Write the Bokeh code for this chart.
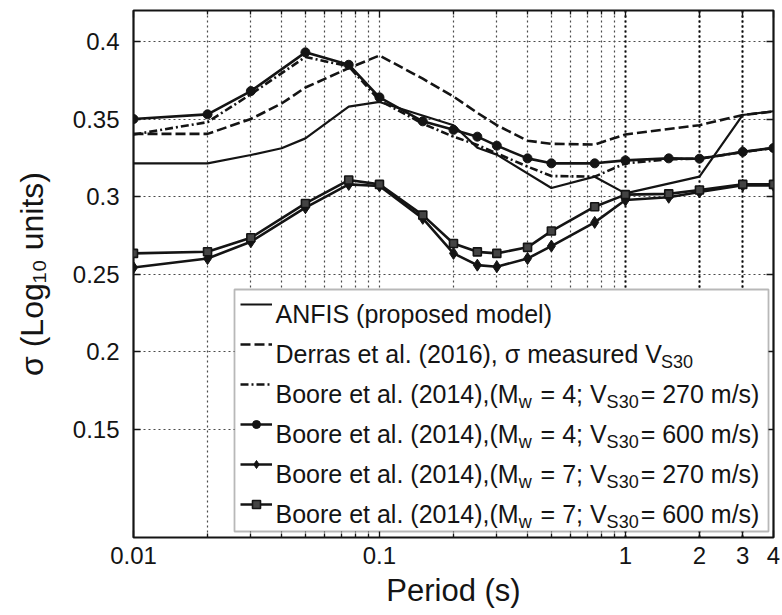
from bokeh.plotting import figure
from bokeh.models import (Range1d, FixedTicker, CustomJSTickFormatter, LogAxis, LinearAxis,
                          Grid, Legend, LegendItem, Label, BoxAnnotation)
from bokeh.embed import file_html
from bokeh.resources import INLINE

# ---------------- data ----------------
periods = [0.01, 0.02, 0.03, 0.05, 0.075, 0.1, 0.15, 0.2, 0.25, 0.3, 0.4, 0.5, 0.75, 1, 1.5, 2, 3, 4]

anfis_periods = [0.01, 0.02, 0.03, 0.04, 0.05, 0.075, 0.1, 0.2, 0.25, 0.3, 0.5, 0.75, 1, 2, 3, 4]
anfis_sigma = [0.3214, 0.3214, 0.3268, 0.3311, 0.3375, 0.358, 0.361, 0.346, 0.3315, 0.327,
               0.3055, 0.3128, 0.302, 0.3128, 0.3526, 0.355]

derras_periods = [0.01, 0.02, 0.03, 0.04, 0.05, 0.075, 0.1, 0.15, 0.2, 0.25, 0.3, 0.4, 0.5, 0.75, 1, 2, 3, 4]
derras_sigma = [0.3404, 0.3404, 0.350, 0.360, 0.3703, 0.3828, 0.391, 0.376, 0.3645, 0.354, 0.346,
                0.336, 0.334, 0.3335, 0.340, 0.346, 0.3526, 0.3548]

boore_m4_v270 = [0.340, 0.348, 0.366, 0.390, 0.384, 0.362, 0.347, 0.3386, 0.3333, 0.3278, 0.3193,
                 0.3132, 0.3128, 0.3214, 0.3240, 0.3244, 0.3287, 0.3313]
boore_m4_v600 = [0.350, 0.353, 0.368, 0.393, 0.385, 0.364, 0.3485, 0.343, 0.3386, 0.3328, 0.3246,
                 0.3214, 0.3214, 0.3233, 0.3246, 0.3244, 0.3288, 0.3313]
boore_m7_v270 = [0.2542, 0.260, 0.2708, 0.2928, 0.3078, 0.3068, 0.2859, 0.2633, 0.2557, 0.2547,
                 0.260, 0.268, 0.2833, 0.2977, 0.2995, 0.3029, 0.3072, 0.3072]
boore_m7_v600 = [0.2633, 0.2644, 0.2734, 0.2955, 0.3106, 0.3078, 0.288, 0.2697, 0.2643, 0.2633,
                 0.2672, 0.2777, 0.2934, 0.3012, 0.3017, 0.3042, 0.3078, 0.3078]

x_major_ticks = [0.01, 0.1, 1, 2, 3, 4]
x_minor_ticks = [0.02, 0.03, 0.04, 0.05, 0.06, 0.07, 0.08, 0.09,
                 0.2, 0.3, 0.4, 0.5, 0.6, 0.7, 0.8, 0.9, 2, 3]
x_dark_grid = [1, 2, 3]
y_ticks = [0.15, 0.2, 0.25, 0.3, 0.35, 0.4]

x_title = "Period (s)"
y_title = "σ (Log\u2081\u2080 units)"

NB = "\u00a0"
legend_rows = [
    [("ANFIS (proposed model)", False)],
    [("Derras et al. (2016), σ measured V", False), ("S30", True)],
    [("Boore et al. (2014),(M", False), ("w", True), (NB + "= 4; V", False), ("S30", True), ("= 270 m/s)", False)],
    [("Boore et al. (2014),(M", False), ("w", True), (NB + "= 4; V", False), ("S30", True), ("= 600 m/s)", False)],
    [("Boore et al. (2014),(M", False), ("w", True), (NB + "= 7; V", False), ("S30", True), ("= 270 m/s)", False)],
    [("Boore et al. (2014),(M", False), ("w", True), (NB + "= 7; V", False), ("S30", True), ("= 600 m/s)", False)],
]

# ---------------- layout ----------------
FONT = "Liberation Sans"
INK = "#141414"
GRID = "#4a4a4a"
W, H = 782, 615
L, R, T, B = 133, 773, 10, 537

# Arial / Liberation Sans advance widths (per 1000 em)
AW = {' ': 278, NB: 278, '(': 333, ')': 333, ',': 278, '.': 278, ';': 278, '=': 584, '/': 278,
      'A': 667, 'B': 667, 'D': 722, 'F': 611, 'I': 278, 'L': 556, 'M': 833, 'N': 722,
      'P': 667, 'S': 667, 'V': 667, 'a': 556, 'd': 556, 'e': 556, 'g': 556, 'i': 222,
      'l': 222, 'm': 833, 'n': 556, 'o': 556, 'p': 556, 'r': 333, 's': 500, 't': 278,
      'u': 556, 'w': 722, 'σ': 580}
for ch in "0123456789":
    AW[ch] = 556


def text_w(s, fs):
    return sum(AW.get(c, 556) for c in s) / 1000.0 * fs


p = figure(width=W, height=H, x_axis_type="log", output_backend="svg", toolbar_location=None,
           x_range=Range1d(0.01, 4), y_range=Range1d(0.08, 0.42),
           min_border_left=L, min_border_right=W - R, min_border_top=T, min_border_bottom=H - B)
p.background_fill_color = "white"
p.border_fill_color = "white"
p.outline_line_color = INK
p.outline_line_width = 2.2

xt = FixedTicker(ticks=x_major_ticks, minor_ticks=x_minor_ticks)
yt = FixedTicker(ticks=y_ticks, minor_ticks=[])
fmt = CustomJSTickFormatter(code="return tick.toString();")
blank = CustomJSTickFormatter(code="return '';")

for ax in (p.xaxis[0], p.yaxis[0]):
    ax.major_label_text_font = FONT
    ax.major_label_text_font_size = "24px"
    ax.major_label_text_color = INK
    ax.axis_line_color = None
    ax.major_tick_in = 7
    ax.major_tick_out = 0
    ax.minor_tick_in = 4
    ax.minor_tick_out = 0
    ax.major_tick_line_color = INK
    ax.minor_tick_line_color = INK
    ax.major_tick_line_width = 1.3
    ax.minor_tick_line_width = 1.3
    ax.formatter = fmt
    ax.axis_label_text_font = FONT
    ax.axis_label_text_font_style = "normal"
    ax.axis_label_text_color = INK
p.xaxis.ticker = xt
p.yaxis.ticker = yt
p.xaxis.major_label_standoff = 9
p.yaxis.major_label_standoff = 14
p.xaxis.axis_label = x_title
p.xaxis.axis_label_text_font_size = "31px"
p.xaxis.axis_label_standoff = 6
p.yaxis.axis_label = y_title
p.yaxis.axis_label_text_font_size = "32px"
p.yaxis.axis_label_standoff = 20

top_ax = LogAxis(ticker=xt, formatter=blank, major_label_standoff=0,
                 axis_line_color=None, major_tick_in=7, major_tick_out=0, minor_tick_in=4,
                 minor_tick_out=0, major_tick_line_color=INK, minor_tick_line_color=INK,
                 major_tick_line_width=1.3, minor_tick_line_width=1.3)
right_ax = LinearAxis(ticker=yt, formatter=blank, major_label_standoff=0,
                      axis_line_color=None, major_tick_in=7, major_tick_out=0,
                      major_tick_line_color=INK, major_tick_line_width=1.3)
p.add_layout(top_ax, "above")
p.add_layout(right_ax, "right")

p.xgrid.grid_line_color = GRID
p.xgrid.grid_line_dash = "2 3"
p.xgrid.grid_line_width = 1.2
p.xgrid.minor_grid_line_color = GRID
p.xgrid.minor_grid_line_dash = "2 3"
p.xgrid.minor_grid_line_width = 1.2
p.ygrid.grid_line_color = GRID
p.ygrid.grid_line_dash = "2 3"
p.ygrid.grid_line_width = 1.2
dark = Grid(dimension=0, ticker=FixedTicker(ticks=x_dark_grid), grid_line_color="#0a0a0a",
            grid_line_dash="2 3", grid_line_width=2)
p.add_layout(dark)

# ---------------- series ----------------
r_anfis = p.line(anfis_periods, anfis_sigma, line_color=INK, line_width=2.2)
r_derras = p.line(derras_periods, derras_sigma, line_color=INK, line_width=2.6, line_dash="10 4")
r_b1 = p.line(periods, boore_m4_v270, line_color=INK, line_width=2.6, line_dash="8 3 2 3")
r_b2 = p.line(periods, boore_m4_v600, line_color=INK, line_width=2.6)
r_b2m = p.scatter(periods, boore_m4_v600, marker="circle", size=9, fill_color=INK, line_color=INK)
r_b3 = p.line(periods, boore_m7_v270, line_color=INK, line_width=2.6)
r_b3m = p.scatter(periods, boore_m7_v270, marker="diamond", size=12, fill_color=INK, line_color=INK)
r_b4 = p.line(periods, boore_m7_v600, line_color=INK, line_width=2.6)
r_b4m = p.scatter(periods, boore_m7_v600, marker="square", size=8, fill_color="#444444",
                  line_color=INK, line_width=1.6)

# ---------------- legend ----------------
LEG_L, LEG_R, LEG_T, LEG_B = 234, 768, 289, 531
box = BoxAnnotation(left=LEG_L, right=LEG_R, top=LEG_T, bottom=LEG_B,
                    left_units="canvas", right_units="canvas", top_units="canvas", bottom_units="canvas",
                    fill_color="white", fill_alpha=1.0, line_color=INK, line_width=1.8)
p.add_layout(box)

ROW0, STEP, GH = 304, 40, 20
items = [LegendItem(label="", renderers=[r]) for r in (r_anfis, r_derras, r_b1)]
items += [LegendItem(label="", renderers=[a, b]) for a, b in ((r_b2, r_b2m), (r_b3, r_b3m), (r_b4, r_b4m))]
n = len(items)
leg_h = n * GH + (n - 1) * (STEP - GH)
leg_top = ROW0 - GH / 2
leg = Legend(items=items, location=(240 - L, B - (leg_top + leg_h)), padding=0, margin=0,
             spacing=STEP - GH, glyph_width=32, glyph_height=GH, label_height=GH, label_width=0,
             label_standoff=0, label_text_font_size="10px", border_line_color=None,
             background_fill_alpha=0)
p.add_layout(leg)

MAIN_FS, SUB_FS, SUB_DROP = 25, 18, 8
for i, row in enumerate(legend_rows):
    x = 275
    yb = ROW0 + i * STEP + 9
    for txt, sub in row:
        fs = SUB_FS if sub else MAIN_FS
        p.add_layout(Label(x=x, y=yb + (SUB_DROP if sub else 0), x_units="canvas", y_units="canvas",
                           text=txt, text_font=FONT, text_font_size=f"{fs}px", text_color=INK,
                           text_align="left", text_baseline="alphabetic"))
        x += text_w(txt, fs) + (2 if sub else 0)

open("out.html", "w").write(file_html(p, INLINE))
